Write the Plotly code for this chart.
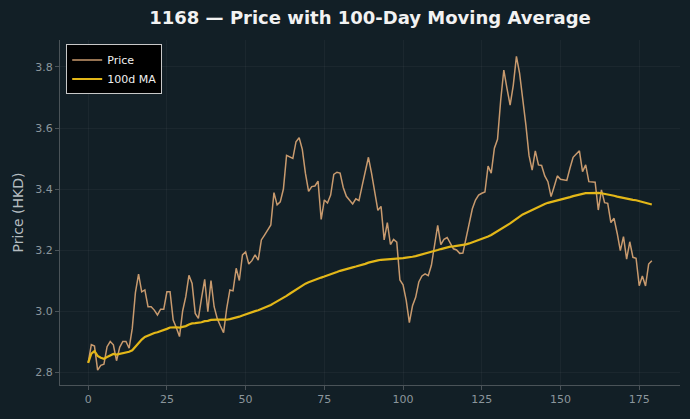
import pandas as pd
import plotly.graph_objects as go

days = list(range(180))
price = [
    2.83, 2.89, 2.885, 2.806, 2.822, 2.826, 2.883, 2.90, 2.889, 2.837,
    2.881, 2.90, 2.90, 2.878, 2.943, 3.06, 3.121, 3.063, 3.069, 3.014,
    3.014, 3.003, 2.987, 3.006, 3.006, 3.063, 3.063, 2.97, 2.945, 2.916,
    3.00, 3.047, 3.117, 3.09, 2.992, 2.976, 3.042, 3.104, 2.998, 3.10,
    3.014, 2.975, 2.951, 2.929, 3.009, 3.069, 3.066, 3.14, 3.10, 3.184,
    3.194, 3.154, 3.165, 3.184, 3.167, 3.233, 3.249, 3.266, 3.282, 3.388,
    3.348, 3.358, 3.40, 3.51, 3.505, 3.50, 3.555, 3.568, 3.53, 3.451,
    3.392, 3.408, 3.41, 3.426, 3.30, 3.364, 3.354, 3.38, 3.448, 3.455,
    3.452, 3.405, 3.376, 3.363, 3.351, 3.368, 3.362, 3.41, 3.457, 3.504,
    3.451, 3.397, 3.33, 3.343, 3.233, 3.29, 3.218, 3.235, 3.226, 3.102,
    3.086, 3.035, 2.962, 3.017, 3.045, 3.095, 3.115, 3.122, 3.116, 3.15,
    3.222, 3.281, 3.218, 3.235, 3.241, 3.223, 3.204, 3.20, 3.189, 3.19,
    3.24, 3.293, 3.335, 3.364, 3.38, 3.386, 3.39, 3.475, 3.452, 3.534,
    3.563, 3.69, 3.79, 3.73, 3.675, 3.74, 3.835, 3.78, 3.70, 3.61,
    3.51, 3.462, 3.525, 3.479, 3.477, 3.443, 3.424, 3.375, 3.408, 3.443,
    3.432, 3.43, 3.428, 3.468, 3.504, 3.515, 3.525, 3.457, 3.479, 3.424,
    3.423, 3.422, 3.331, 3.397, 3.355, 3.353, 3.29, 3.304, 3.255, 3.198,
    3.244, 3.17, 3.227, 3.176, 3.173, 3.083, 3.115, 3.082, 3.154, 3.165,
]
ma_window = 100
ma = pd.Series(price).rolling(ma_window, min_periods=1).mean().tolist()

x_ticks = [0, 25, 50, 75, 100, 125, 150, 175]
y_ticks = [2.8, 3.0, 3.2, 3.4, 3.6, 3.8]

BG = "#121f26"
GRID = "rgba(255,255,255,0.04)"
TICK = "#8b969c"
SPINE = "#4a5358"

fig = go.Figure()
fig.add_trace(go.Scatter(x=days, y=price, mode="lines", name="Price",
                         line=dict(color="#c89a6e", width=1.5)))
fig.add_trace(go.Scatter(x=days, y=ma, mode="lines", name="100d MA",
                         line=dict(color="#e3b718", width=2.2)))

fig.update_layout(
    width=690, height=419,
    paper_bgcolor=BG, plot_bgcolor=BG,
    margin=dict(l=60, r=10, t=40, b=34),
    font=dict(family="DejaVu Sans", color=TICK, size=11),
    title=dict(text="<b>1168 — Price with 100-Day Moving Average</b>",
               x=0.5363, xanchor="center", y=0.957, yanchor="middle",
               font=dict(size=18, color="#f2f2f2", family="DejaVu Sans")),
    legend=dict(x=0.01, y=0.987, xanchor="left", yanchor="top",
                bgcolor="#000000", bordercolor="#c8c8c8", borderwidth=1,
                font=dict(size=11, color="#f0f0f0"),
                tracegroupgap=0, itemwidth=30),
    showlegend=True,
)
fig.update_xaxes(
    range=[-8.95, 187.95], tickvals=x_ticks, ticktext=[str(v) for v in x_ticks],
    showgrid=True, gridcolor=GRID, gridwidth=1, zeroline=False,
    showline=True, linecolor=SPINE, linewidth=1,
    ticks="outside", ticklen=4, tickcolor=SPINE,
    tickfont=dict(size=11, color=TICK),
)
fig.update_yaxes(
    range=[2.7574, 3.8885], tickvals=y_ticks, ticktext=[f"{v:.1f}" for v in y_ticks],
    showgrid=True, gridcolor=GRID, gridwidth=1, zeroline=False,
    showline=True, linecolor=SPINE, linewidth=1,
    ticks="outside", ticklen=4, tickcolor=SPINE,
    tickfont=dict(size=11, color=TICK),
    title=dict(text="Price (HKD)", font=dict(size=14, color="#b4bcc0"), standoff=8),
)
fig.write_html("out.html")
